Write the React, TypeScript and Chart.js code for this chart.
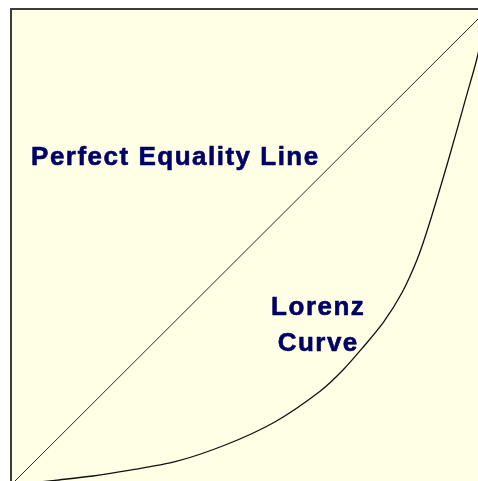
import React, { useEffect, useRef } from "react";
import { Chart, registerables } from "chart.js";

Chart.register(...registerables);

// Cumulative share of population (x) and income (y)
const equalityX = [0, 1];
const equalityY = [0, 1];

const lorenzX = [0, 0.092, 0.172, 0.243, 0.344, 0.449, 0.554, 0.648, 0.696, 0.739, 0.781, 0.819, 0.851, 0.875, 0.917, 0.955, 0.976, 1];
const lorenzY = [0, 0.0099, 0.0189, 0.03, 0.0489, 0.084, 0.133, 0.197, 0.2416, 0.2905, 0.342, 0.4027, 0.4727, 0.5426, 0.6828, 0.818, 0.8929, 1];

const labelEquality = "Perfect Equality Line";
const labelLorenz = ["Lorenz", "Curve"];

const BG = "#FFFFE6";
const TEXT = "#000066";

const decorPlugin = {
  id: "decor",
  beforeDraw(chart: any) {
    const { ctx, chartArea } = chart;
    ctx.save();
    ctx.fillStyle = BG;
    ctx.fillRect(chartArea.left, chartArea.top, chartArea.right - chartArea.left, chartArea.bottom - chartArea.top);
    ctx.restore();
  },
  afterDraw(chart: any) {
    const { ctx, chartArea, scales } = chart;
    const xs = scales.x;
    const ys = scales.y;
    ctx.save();
    // frame
    ctx.strokeStyle = "#3c3c3c";
    ctx.lineWidth = 2;
    ctx.beginPath();
    ctx.moveTo(chartArea.left, chartArea.bottom);
    ctx.lineTo(chartArea.left, chartArea.top);
    ctx.lineTo(chartArea.right, chartArea.top);
    ctx.lineTo(chartArea.right, chartArea.bottom);
    ctx.closePath();
    ctx.stroke();
    // labels
    ctx.fillStyle = TEXT;
    ctx.strokeStyle = TEXT;
    ctx.lineWidth = 0.6;
    ctx.lineJoin = "round";
    ctx.font = "bold 26px 'Liberation Sans', Arial, sans-serif";
    (ctx as any).letterSpacing = "1.5px";
    ctx.textBaseline = "alphabetic";
    const draw = (t: string, x: number, y: number) => {
      ctx.fillText(t, x, y);
      ctx.strokeText(t, x, y);
    };
    ctx.textAlign = "left";
    draw(labelEquality, xs.getPixelForValue(0.042), ys.getPixelForValue(0.673));
    ctx.textAlign = "center";
    draw(labelLorenz[0], xs.getPixelForValue(0.642) + 1, ys.getPixelForValue(0.357));
    draw(labelLorenz[1], xs.getPixelForValue(0.642) + 1, ys.getPixelForValue(0.2815));
    ctx.restore();
  },
};

export default function App() {
  const ref = useRef<HTMLCanvasElement>(null);
  useEffect(() => {
    if (!ref.current) return;
    const chart = new Chart(ref.current, {
      type: "scatter",
      data: {
        datasets: [
          {
            label: "Equality",
            data: equalityX.map((x, i) => ({ x, y: equalityY[i] })),
            showLine: true,
            borderColor: "#2a2a2a",
            borderWidth: 1,
            pointRadius: 0,
          },
          {
            label: "Lorenz",
            data: lorenzX.map((x, i) => ({ x, y: lorenzY[i] })),
            showLine: true,
            borderColor: "#111111",
            borderWidth: 1.3,
            pointRadius: 0,
            tension: 0.3,
          },
        ],
      },
      options: {
        animation: false,
        responsive: false,
        devicePixelRatio: 1,
        layout: { padding: { left: 11, top: 9, right: 12, bottom: 15 } },
        plugins: { legend: { display: false }, tooltip: { enabled: false } },
        scales: {
          x: { type: "linear", min: 0, max: 1, display: false },
          y: { type: "linear", min: 0, max: 1, display: false },
        },
      },
      plugins: [decorPlugin],
    });
    return () => chart.destroy();
  }, []);
  return (
    <div style={{ position: "fixed", left: 0, top: 0, width: 478, height: 481, overflow: "hidden", background: "#fff" }}>
      <canvas ref={ref} width={500} height={500} style={{ position: "absolute", left: 0, top: 0 }} />
    </div>
  );
}
